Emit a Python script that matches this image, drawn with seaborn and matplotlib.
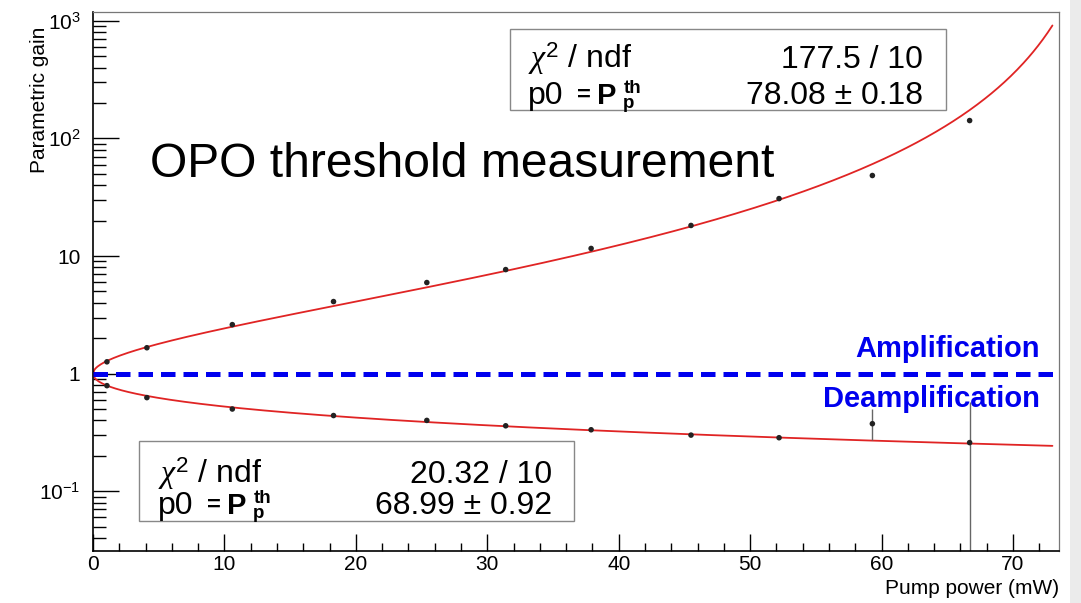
import numpy as np
import pandas as pd
import matplotlib
matplotlib.use("Agg")
import matplotlib.pyplot as plt
import seaborn as sns
from matplotlib.patches import Rectangle
from matplotlib.ticker import FixedLocator, NullFormatter, LogLocator, MultipleLocator

power = [1.06, 4.1, 10.6, 18.3, 25.4, 31.4, 37.9, 45.5, 52.2, 59.3, 66.7]
gain_amp = [1.26, 1.66, 2.61, 4.1, 5.95, 7.67, 11.6, 18.2, 30.8, 48.4, 142]
amp_err = [0.03, 0.04, 0.06, 0.1, 0.15, 0.2, 0.5, 0.4, 0.8, 1.2, 4.0]
gain_deamp = [0.79, 0.625, 0.50, 0.44, 0.40, 0.36, 0.333, 0.30, 0.285, 0.375, 0.259]
deamp_err_lo = [0.01, 0.01, 0.01, 0.01, 0.01, 0.01, 0.01, 0.008, 0.008, 0.10, 0.254]
deamp_err_hi = [0.01, 0.01, 0.01, 0.01, 0.01, 0.01, 0.01, 0.008, 0.008, 0.13, 0.31]

# fit results shown in the stat boxes
p0_amp = 78.08
p0_deamp = 68.99
stats_amp = ["177.5 / 10", "78.08 \u00b1 0.18"]
stats_deamp = ["20.32 / 10", "68.99 \u00b1 0.92"]

y_ticks = [0.1, 1, 10, 100, 1000]
y_labels = [r"$10^{-1}$", "1", "10", r"$10^{2}$", r"$10^{3}$"]

W, H = 1081, 603


def fx(x):
    return x / W


def fy(y):
    return 1 - y / H


def main():
    sns.set_style("white")
    plt.rcParams["font.family"] = ["Liberation Sans", "DejaVu Sans"]
    plt.rcParams["text.color"] = "black"
    plt.rcParams["xtick.color"] = "black"
    plt.rcParams["ytick.color"] = "black"
    plt.rcParams["mathtext.fontset"] = "custom"
    plt.rcParams["mathtext.rm"] = "Liberation Sans"
    plt.rcParams["mathtext.it"] = "Liberation Serif:italic"
    plt.rcParams["mathtext.bf"] = "Liberation Sans:bold"

    fig = plt.figure(figsize=(W / 100, H / 100), dpi=100)
    ax = fig.add_axes([fx(93), fy(551), fx(1059) - fx(93), fy(12) - fy(551)])

    # fit curves from the fitted threshold p0
    xs = np.linspace(0, 73, 600)
    fit = pd.DataFrame({
        "x": xs,
        "amp": 1 / (1 - np.sqrt(xs / p0_amp)) ** 2,
        "deamp": 1 / (1 + np.sqrt(xs / p0_deamp)) ** 2,
    })
    sns.lineplot(data=fit, x="x", y="amp", ax=ax, color="#e02424", lw=1.3)
    sns.lineplot(data=fit, x="x", y="deamp", ax=ax, color="#e02424", lw=1.3)

    ax.axhline(1, color="#0000ee", lw=3.6, dashes=(2.9, 1.6), zorder=3)

    ax.errorbar(power, gain_amp, yerr=amp_err, fmt="none", ecolor="#555555", elinewidth=1)
    ax.errorbar(power, gain_deamp, yerr=[deamp_err_lo, deamp_err_hi], fmt="none",
                ecolor="#666666", elinewidth=1)
    pts = pd.DataFrame({"p": power * 2, "g": gain_amp + gain_deamp})
    sns.scatterplot(data=pts, x="p", y="g", ax=ax, color="#222222", s=16,
                    marker="o", edgecolor="none", zorder=5)

    ax.set_yscale("log")
    ax.set_xlim(0, 73.5)
    ax.set_ylim(0.031, 1190)
    ax.set_xlabel("")
    ax.set_ylabel("")

    ax.yaxis.set_major_locator(FixedLocator(y_ticks))
    ax.set_yticklabels(y_labels)
    ax.yaxis.set_minor_locator(LogLocator(base=10, subs=np.arange(2, 10)))
    ax.yaxis.set_minor_formatter(NullFormatter())
    ax.xaxis.set_major_locator(MultipleLocator(10))
    ax.xaxis.set_minor_locator(MultipleLocator(2))

    ax.tick_params(axis="y", which="major", direction="in", length=19, width=1,
                   labelsize=15, pad=9, left=True, right=False)
    ax.tick_params(axis="y", which="minor", direction="in", length=9, width=1,
                   left=True, right=False)
    ax.tick_params(axis="x", which="major", direction="in", length=12, width=1,
                   labelsize=15, pad=3, bottom=True, top=False)
    ax.tick_params(axis="x", which="minor", direction="in", length=6, width=1,
                   bottom=True, top=False)
    for side in ["left", "bottom"]:
        ax.spines[side].set_color("black")
        ax.spines[side].set_linewidth(1.2)
    for side in ["top", "right"]:
        ax.spines[side].set_color("#777777")
        ax.spines[side].set_linewidth(0.9)

    # axis titles, ROOT style
    fig.text(fx(1059), fy(594), "Pump power (mW)", ha="right", va="baseline", fontsize=15)
    fig.text(fx(40), fy(27), "Parametric gain", rotation=90, ha="center", va="top", fontsize=15)

    fig.text(fx(150), fy(177), "OPO threshold measurement", fontsize=34.6, va="baseline")

    fig.text(fx(1040), fy(357), "Amplification", color="#0000ee", fontsize=21,
             fontweight="bold", ha="right", va="baseline")
    fig.text(fx(1040), fy(407), "Deamplification", color="#0000ee", fontsize=21,
             fontweight="bold", ha="right", va="baseline")

    # stat boxes
    boxes = [((510, 29, 946, 110), (528, 923), (68, 104), stats_amp),
             ((139, 441, 574, 521), (158, 552), (483, 514), stats_deamp)]
    for (x0, y0, x1, y1), (tl, tr), (b1, b2), vals in boxes:
        fig.patches.append(Rectangle((fx(x0), fy(y1)), fx(x1) - fx(x0), fy(y0) - fy(y1),
                                     transform=fig.transFigure, facecolor="white",
                                     edgecolor="#888888", lw=1, zorder=10))
        kw = dict(va="baseline", zorder=11)
        fig.text(fx(tl), fy(b1), r"$\chi^{2}$ / ndf", fontsize=23, **kw)
        fig.text(fx(tl), fy(b2), "p0", fontsize=23, **kw)
        fig.text(fx(tl + 49), fy(b2 - 2), "=", fontsize=17, fontweight="bold", **kw)
        fig.text(fx(tl + 69), fy(b2), "P", fontsize=21, fontweight="bold", **kw)
        fig.text(fx(tl + 96), fy(b2 - 11), "th", fontsize=13.5, fontweight="bold", **kw)
        fig.text(fx(tl + 95), fy(b2 + 4), "p", fontsize=13.5, fontweight="bold", **kw)
        fig.text(fx(tr), fy(b1), vals[0], fontsize=23, ha="right", **kw)
        fig.text(fx(tr), fy(b2), vals[1], fontsize=23, ha="right", **kw)

    # light grey strip on the right edge of the canvas
    fig.patches.append(Rectangle((fx(1070), 0), 1 - fx(1070), 1, transform=fig.transFigure,
                                 facecolor="#ebebeb", edgecolor="none", zorder=0))

    fig.savefig("out.png", dpi=100)
    plt.close(fig)


if __name__ == "__main__":
    main()
